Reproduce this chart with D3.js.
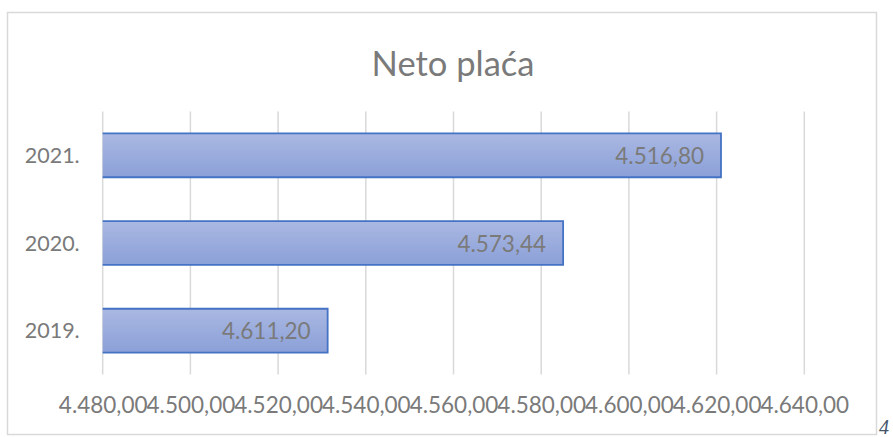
<!DOCTYPE html>
<html>
<head>
<meta charset="utf-8">
<script src="https://cdn.jsdelivr.net/npm/d3@7"></script>
<style>
  html, body { margin: 0; padding: 0; background: #fff; }
  svg { display: block; }
</style>
</head>
<body>
<svg id="chart" width="893" height="437"></svg>
<script>
// ---- data ----
const title = "Neto plaća";
const categories = ["2021.", "2020.", "2019."];
const values = [4621, 4585, 4531.3];
const dataLabels = ["4.516,80", "4.573,44", "4.611,20"];
const tickValues = [4480, 4500, 4520, 4540, 4560, 4580, 4600, 4620, 4640];
const tickLabels = ["4.480,00", "4.500,00", "4.520,00", "4.540,00", "4.560,00", "4.580,00", "4.600,00", "4.620,00", "4.640,00"];
const pageNumber = "4";

const svg = d3.select("#chart");
const font = "Lato, 'Noto Sans', sans-serif";
const textColor = "#7a7a7a";

// gradient
const defs = svg.append("defs");
const grad = defs.append("linearGradient").attr("id", "barGrad")
  .attr("x1", 0).attr("y1", 0).attr("x2", 0).attr("y2", 1);
grad.append("stop").attr("offset", "0%").attr("stop-color", "#aab8e2");
grad.append("stop").attr("offset", "100%").attr("stop-color", "#8ba0d8");

// outer border
svg.append("rect")
  .attr("x", 7.5).attr("y", 12.5).attr("width", 869).attr("height", 422)
  .attr("fill", "#fff").attr("stroke", "#d9d9d9").attr("stroke-width", 1.5);

// title
svg.append("text")
  .attr("x", 453).attr("y", 76)
  .attr("text-anchor", "middle")
  .attr("font-family", font).attr("font-size", 34.5)
  .attr("fill", textColor)
  .text(title);

const x = d3.scaleLinear().domain([4480, 4640]).range([102.7, 804.3]);
const y = d3.scaleBand().domain(categories).range([111.5, 374.5]).paddingInner(0.5).paddingOuter(0.25);

// gridlines
svg.append("g").selectAll("line").data(tickValues).join("line")
  .attr("x1", d => x(d)).attr("x2", d => x(d))
  .attr("y1", 111.5).attr("y2", 374.5)
  .attr("stroke", "#d9d9d9").attr("stroke-width", 1.5);

// x axis labels
const xAxis = d3.axisBottom(x).tickValues(tickValues)
  .tickFormat((d, i) => tickLabels[i]).tickSize(0).tickPadding(0);
const gx = svg.append("g").attr("transform", "translate(0,397.5)").call(xAxis);
gx.select(".domain").remove();
gx.selectAll("text")
  .attr("font-family", font).attr("font-size", 22.5)
  .attr("fill", textColor).attr("dy", "0.71em");

// y axis labels
const yAxis = d3.axisLeft(y).tickSize(0).tickPadding(23);
const gy = svg.append("g").attr("transform", `translate(${x(4480)},0)`).call(yAxis);
gy.select(".domain").remove();
gy.selectAll("text")
  .attr("font-family", font).attr("font-size", 21.5)
  .attr("fill", textColor).attr("dy", "0.36em");

// bars
const bars = svg.append("g");
bars.selectAll("rect").data(categories).join("rect")
  .attr("x", x(4480))
  .attr("y", d => y(d))
  .attr("width", (d, i) => x(values[i]) - x(4480))
  .attr("height", y.bandwidth())
  .attr("fill", "url(#barGrad)");
bars.selectAll("path").data(categories).join("path")
  .attr("d", (d, i) => {
    const x0 = x(4480), x1 = x(values[i]), y0 = y(d), y1 = y(d) + y.bandwidth();
    return `M${x0},${y0}H${x1}V${y1}H${x0}`;
  })
  .attr("fill", "none").attr("stroke", "#4472c4").attr("stroke-width", 1.8);

// data labels
svg.append("g").selectAll("text").data(categories).join("text")
  .attr("x", (d, i) => x(values[i]) - 17)
  .attr("y", d => y(d) + y.bandwidth() / 2)
  .attr("dy", "0.38em")
  .attr("text-anchor", "end")
  .attr("font-family", font).attr("font-size", 22.5)
  .attr("fill", textColor)
  .text((d, i) => dataLabels[i]);

// page number fragment
svg.append("text")
  .attr("x", 879).attr("y", 434)
  .attr("font-family", "'Liberation Serif', serif").attr("font-style", "italic")
  .attr("font-size", 20).attr("fill", "#44546a")
  .text(pageNumber);
</script>
</body>
</html>
